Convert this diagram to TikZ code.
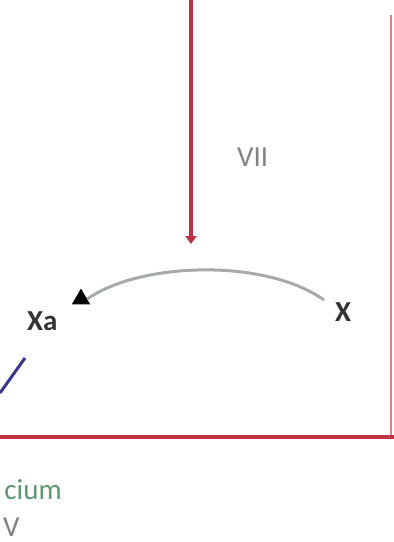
\documentclass[tikz,border=0pt]{standalone}
\usepackage{fontspec}
\setmainfont{Carlito}
\usetikzlibrary{arrows.meta,shapes.geometric}
\definecolor{darkred}{RGB}{190,50,65}
\definecolor{lightred}{RGB}{235,120,130}
\definecolor{arcgray}{RGB}{165,172,168}
\definecolor{navy}{RGB}{55,55,140}
\definecolor{labgreen}{RGB}{95,150,115}
\definecolor{labgray}{RGB}{130,130,130}
\tikzset{
  redline/.style={draw=darkred,line width=3.2pt},
  lab/.style={inner sep=0pt,anchor=base west,font=\fontsize{29}{29}\selectfont},
  boldlab/.style={lab,text=black!80,font=\bfseries\fontsize{29}{29}\selectfont},
}
\begin{document}
\begin{tikzpicture}[x=1pt,y=-1pt]
\useasboundingbox[fill=white] (0,0) rectangle (394,542);
% coordinates
\coordinate (topA) at (191,0);
\coordinate (peak) at (191,244);
\coordinate (cornerL) at (0,437);
\coordinate (cornerR) at (394,437);
\coordinate (rtop) at (391,15);
\coordinate (rbot) at (391,437);
\coordinate (xend) at (324,300);
\coordinate (bl1) at (0,393);
\coordinate (bl2) at (25,358);
% right vertical
\draw[draw=lightred,line width=2.4pt] (rtop) -- (rbot);
% top arrow
\draw[redline,-{Triangle[width=11pt,length=8pt]}] (topA) -- (peak);
\node[lab,text=labgray] (vii) at (237,166) {VII};
% arc with triangle head
\node[regular polygon,regular polygon sides=3,fill=black,inner sep=0pt,minimum size=21pt] (tri) at (81,299) {};
\draw[draw=arcgray,line width=3pt]
  (tri.east) .. controls (140,262) and (265,258) .. (xend);
\node[boldlab] (xa) at (27,330) {Xa};
\node[boldlab] (x) at (335,321) {X};
% horizontal red
\draw[redline] (cornerL) -- (cornerR);
% blue segment
\draw[draw=navy,line width=3pt] (bl1) -- (bl2);
% bottom labels
\node[lab,text=labgreen,anchor=base east] (cium) at (62,499) {cium};
\node[lab,text=labgray] (v) at (3,536) {V};
\end{tikzpicture}
\end{document}
